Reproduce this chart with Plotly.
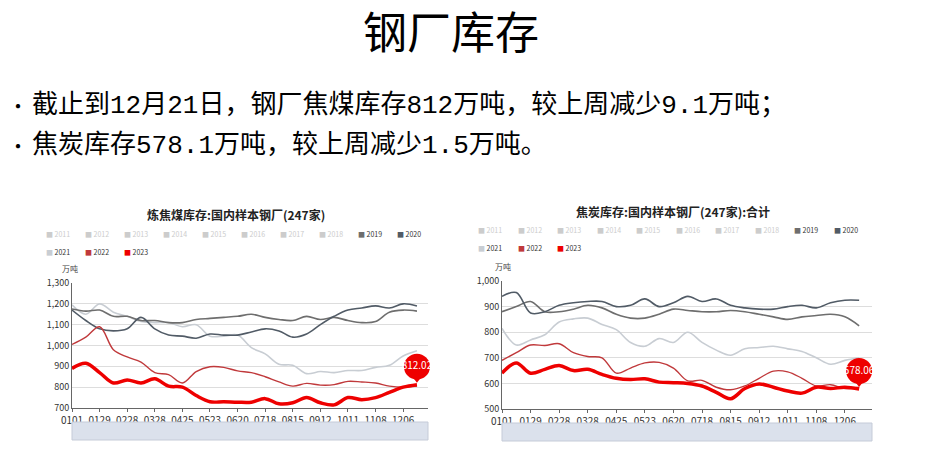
import plotly.graph_objects as go

# biweekly sample dates (MMDD)
dates = ["0101", "0115", "0129", "0212", "0228", "0314", "0328", "0411", "0425", "0509",
         "0523", "0606", "0620", "0704", "0718", "0801", "0815", "0829", "0912", "0926",
         "1011", "1025", "1108", "1122", "1206", "1220"]
tick_labels = dates[::2]

years = ["2011", "2012", "2013", "2014", "2015", "2016", "2017", "2018",
         "2019", "2020", "2021", "2022", "2023"]

# coking coal inventory (万吨)
coal_2019 = [1175, 1165, 1170, 1140, 1140, 1120, 1120, 1110, 1110, 1125, 1130, 1135, 1140,
             1150, 1135, 1125, 1120, 1140, 1125, 1135, 1120, 1110, 1115, 1160, 1170, 1165]
coal_2020 = [1170, 1120, 1080, 1070, 1080, 1135, 1080, 1050, 1045, 1035, 1055, 1050, 1050,
             1065, 1080, 1070, 1040, 1055, 1100, 1140, 1170, 1180, 1190, 1180, 1200, 1190]
coal_2021 = [1195, 1150, 1200, 1160, 1140, 1115, 1110, 1110, 1090, 1100, 1045, 1045, 1050,
             990, 960, 910, 905, 865, 875, 870, 880, 880, 895, 905, 950, 975]
coal_2022 = [1005, 1040, 1090, 980, 945, 920, 870, 860, 820, 875, 898, 895, 878,
             870, 850, 825, 805, 818, 810, 812, 828, 825, 820, 805, 800, 805]
coal_2023 = [890, 915, 870, 820, 835, 820, 840, 805, 800, 760, 730, 730, 728,
             728, 745, 720, 725, 750, 725, 715, 750, 740, 750, 775, 800, 812.02]

# coke inventory (万吨)
coke_2019 = [880, 900, 920, 880, 880, 890, 905, 895, 870, 855, 855, 870, 890,
             885, 880, 880, 885, 880, 870, 860, 850, 860, 865, 870, 860, 825]
coke_2020 = [940, 955, 875, 880, 905, 915, 920, 920, 900, 905, 930, 900, 915,
             940, 920, 930, 905, 895, 890, 890, 900, 905, 895, 915, 925, 925]
coke_2021 = [815, 750, 770, 790, 840, 852, 855, 830, 810, 760, 745, 775, 760,
             800, 760, 730, 710, 735, 740, 745, 735, 725, 700, 675, 690, 700]
coke_2022 = [690, 720, 750, 748, 755, 720, 705, 700, 640, 660, 680, 682, 660,
             610, 612, 585, 575, 590, 620, 648, 645, 620, 590, 595, 580, 585]
coke_2023 = [640, 680, 640, 655, 670, 650, 655, 635, 620, 615, 618, 605, 603,
             600, 590, 565, 540, 580, 598, 585, 570, 562, 585, 580, 585, 578.06]

colors = {"2019": "#6e6e6e", "2020": "#515b66", "2021": "#c8cdd3",
          "2022": "#c0393b", "2023": "#ee0000"}
widths = {"2019": 1.6, "2020": 1.6, "2021": 1.6, "2022": 1.4, "2023": 3.5}

x = list(range(len(dates)))
fig = go.Figure()

charts = [
    ("x", "y", 600 / 125, {"2019": coal_2019, "2020": coal_2020, "2021": coal_2021,
                           "2022": coal_2022, "2023": coal_2023}),
    ("x2", "y2", 500 / 128, {"2019": coke_2019, "2020": coke_2020, "2021": coke_2021,
                             "2022": coke_2022, "2023": coke_2023}),
]
for xa, ya, per_px, series in charts:
    for yr in ["2021", "2019", "2020", "2022", "2023"]:
        fig.add_trace(go.Scatter(x=x, y=series[yr], xaxis=xa, yaxis=ya, mode="lines",
                                 line=dict(color=colors[yr], width=widths[yr], shape="spline"),
                                 showlegend=False, hoverinfo="skip"))
    # pin marker at the latest value
    last = series["2023"][-1]
    fig.add_trace(go.Scatter(x=[x[-1]], y=[last + 8 * per_px], xaxis=xa, yaxis=ya, mode="markers",
                             marker=dict(symbol="triangle-down", size=12, color="#ee0000"),
                             showlegend=False, hoverinfo="skip", cliponaxis=False))
    fig.add_trace(go.Scatter(x=[x[-1]], y=[last + 18 * per_px], xaxis=xa, yaxis=ya,
                             mode="markers+text", text=[f"{last:.2f}"], textposition="middle center",
                             textfont=dict(size=10, color="white"),
                             marker=dict(symbol="circle", size=26, color="#ee0000"),
                             showlegend=False, hoverinfo="skip", cliponaxis=False))

W, H = 942, 455
OFF = 8  # page body margin
def px(v): return (v - OFF) / W
def py(v): return 1 - (v - OFF) / H

axis_common = dict(showgrid=False, showline=True, linecolor="#666", ticks="outside",
                   ticklen=3, tickcolor="#666", tickfont=dict(size=10, color="#333"),
                   tickvals=x[::2], ticktext=tick_labels, automargin=False)
yaxis_common = dict(showgrid=True, gridcolor="#dddddd", showline=True, linecolor="#666",
                    tickformat=",", tickfont=dict(size=9, color="#333"), zeroline=False,
                    automargin=False)

fig.update_layout(
    width=W, height=H, margin=dict(l=0, r=0, t=0, b=0),
    paper_bgcolor="white", plot_bgcolor="white",
    font=dict(family="Noto Sans CJK SC"),
    xaxis=dict(domain=[px(72), px(428)], range=[0, 25.8], anchor="y", **axis_common),
    yaxis=dict(domain=[py(408), py(283)], range=[700, 1300], dtick=100, anchor="x", **yaxis_common),
    xaxis2=dict(domain=[px(502), px(872)], range=[0, 25.9], anchor="y2", **axis_common),
    yaxis2=dict(domain=[py(409), py(281)], range=[500, 1000], dtick=100, anchor="x2", **yaxis_common),
)

body_font = "Liberation Mono, Noto Sans CJK SC"
ann = []
ann.append(dict(text="钢厂库存", x=px(451), y=py(30), font=dict(size=44, color="#000")))
ann.append(dict(text="•", x=px(18), y=py(105), font=dict(size=20, color="#000")))
ann.append(dict(text="截止到12月21日，钢厂焦煤库存812万吨，较上周减少9.1万吨；",
                x=px(30), y=py(105), xanchor="left",
                font=dict(size=26, color="#000", family=body_font)))
ann.append(dict(text="•", x=px(18), y=py(145), font=dict(size=20, color="#000")))
ann.append(dict(text="焦炭库存578.1万吨，较上周减少1.5万吨。",
                x=px(30), y=py(145), xanchor="left",
                font=dict(size=26, color="#000", family=body_font)))
ann.append(dict(text="<b>炼焦煤库存:国内样本钢厂(247家)</b>", x=px(236), y=py(215),
                font=dict(size=12, color="#222")))
ann.append(dict(text="<b>焦炭库存:国内样本钢厂(247家):合计</b>", x=px(673), y=py(211),
                font=dict(size=12, color="#222")))
ann.append(dict(text="万吨", x=px(70), y=py(268), font=dict(size=8, color="#444")))
ann.append(dict(text="万吨", x=px(503), y=py(266), font=dict(size=8, color="#444")))

# legends
for x0, y0, step in [(44, 234, 39), (476, 230, 39.5)]:
    for i, yr in enumerate(years):
        if i < 10:
            lx, ly = x0 + i * step, y0
        else:
            lx, ly = x0 + (i - 10) * step, y0 + 18
        active = yr in colors
        c = colors[yr] if active else "#cccccc"
        ann.append(dict(text=f"<span style='color:{c}'>■</span> {yr}", x=px(lx), y=py(ly),
                        xanchor="left", font=dict(size=7, color="#333" if active else "#ccc")))

for a in ann:
    a.setdefault("xref", "paper")
    a.setdefault("yref", "paper")
    a.setdefault("showarrow", False)
    a.setdefault("xanchor", "center")
    a.setdefault("yanchor", "middle")
fig.update_layout(annotations=ann)

# data-zoom sliders
shapes = []
for l, r, t, b in [(72, 428, 422, 440), (502, 872, 423, 441)]:
    shapes.append(dict(type="rect", xref="paper", yref="paper", x0=px(l), x1=px(r),
                       y0=py(b), y1=py(t), fillcolor="#dbe1ec", line=dict(color="#c5cbd8", width=1)))
fig.update_layout(shapes=shapes)

fig.write_html("out.html")
